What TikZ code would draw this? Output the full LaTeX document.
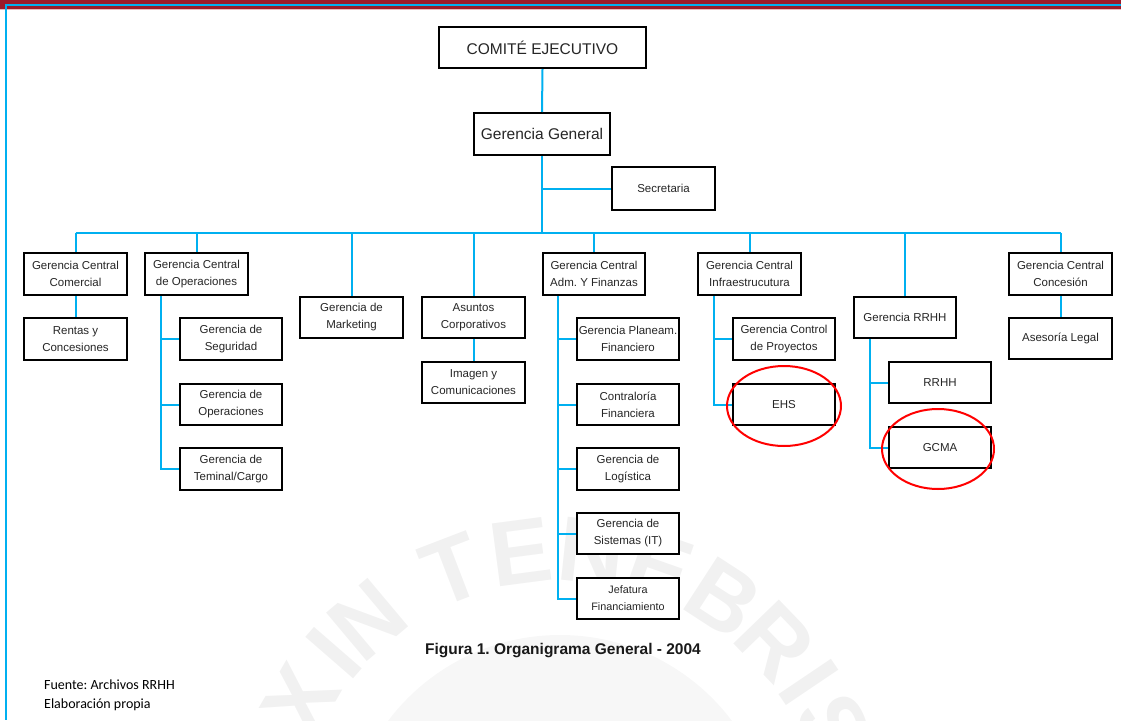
\documentclass[tikz,border=0pt]{standalone}
\usepackage{fontspec}
\setmainfont{Liberation Sans}
\newfontfamily\notefont{Carlito}
\frenchspacing
\definecolor{linkblue}{HTML}{00B0F0}
\definecolor{bandred}{HTML}{9B1B2B}
\definecolor{bandpink}{HTML}{E9B8BC}
\definecolor{sealgray}{HTML}{F1F1F1}
\definecolor{sealdisc}{HTML}{F7F7F7}
\tikzset{
  unit/.style={draw=black, line width=2pt, fill=white, inner sep=0pt, align=center,
    text=black!85, minimum width=103pt, minimum height=42pt,
    font=\fontsize{11.5}{17}\selectfont},
  bigunit/.style={unit, font=\fontsize{15.5}{19}\selectfont},
  link/.style={draw=linkblue, line width=2pt},
  hilite/.style={draw=red, line width=2pt},
  sealletter/.style={text=sealgray, inner sep=0pt, font=\bfseries\fontsize{92}{92}\selectfont}
}
\begin{document}
\begin{tikzpicture}[x=1pt, y=-1pt]
\useasboundingbox (0,0) rectangle (1121,720);

% faint seal in the background
\begin{scope}
  \clip (0,0) rectangle (1121,720);
  \fill[sealdisc] (560,850) circle[radius=215];
  \begin{scope}[shift={(560,850)}, yscale=-1]
    \foreach \a/\c in {177/L, 163.5/U, 150/X, 139/I, 130/N, 111/T, 97.5/E, 84/N,
                       70.5/E, 57/B, 44/R, 34/I, 24/S, 7/L}
      \node[sealletter, rotate=\a-90] at (\a:300) {\c};
  \end{scope}
\end{scope}

% page header band
\fill[bandred] (0,0) rectangle (1121,8.5);
\fill[bandpink] (0,8.5) rectangle (1121,10);
\fill[linkblue] (5.3,4) rectangle (1121,6);
\fill[linkblue] (5.3,4) rectangle (7.3,720);

% top levels
\node[bigunit, minimum width=207pt, minimum height=41pt] (ce) at (542.5,47.5) {COMITÉ EJECUTIVO};
\node[bigunit, minimum width=136pt] (gg) at (542,134) {Gerencia General};
\node[unit, minimum height=43pt] (sec) at (663.5,188.5) {Secretaria};

% central managements
\node[unit] (gcc) at (75.5,274) {Gerencia Central\\Comercial};
\node[unit] (gco) at (196.5,274) {Gerencia Central\\de Operaciones};
\node[unit, minimum height=41pt] (mkt) at (351.5,317.5) {Gerencia de\\Marketing};
\node[unit, minimum height=41pt] (ac) at (473.5,317.5) {Asuntos\\Corporativos};
\node[unit, minimum width=102pt] (gaf) at (594,274) {Gerencia Central\\Adm. Y Finanzas};
\node[unit] (gci) at (749.5,274) {Gerencia Central\\Infraestrucutura};
\node[unit, minimum width=102pt, minimum height=41pt] (grh) at (905,317.5) {Gerencia RRHH};
\node[unit] (gcn) at (1060.5,274) {Gerencia Central\\Concesión};

% units below
\node[unit] (ryc) at (75.5,339) {Rentas y\\Concesiones};
\node[unit, minimum width=102pt] (seg) at (231,339) {Gerencia de\\Seguridad};
\node[unit, minimum width=102pt, minimum height=41pt] (ope) at (231,404.5) {Gerencia de\\Operaciones};
\node[unit, minimum width=102pt] (ter) at (231,469) {Gerencia de\\Teminal/Cargo};
\node[unit, minimum height=41pt] (img) at (473.5,382.5) {Imagen y\\Comunicaciones};
\node[unit, minimum width=102pt] (pla) at (628,339) {Gerencia Planeam.\\Financiero};
\node[unit, minimum width=102pt, minimum height=41pt] (con) at (628,404.5) {Contraloría\\Financiera};
\node[unit, minimum width=102pt] (lgs) at (628,469) {Gerencia de\\Logística};
\node[unit, minimum width=102pt, minimum height=41pt] (sis) at (628,533.5) {Gerencia de\\Sistemas (IT)};
\node[unit, minimum width=102pt, minimum height=41pt, font=\fontsize{10.8}{17}\selectfont] (jef) at (628,598.5) {Jefatura\\Financiamiento};
\node[unit, minimum width=102pt] (gcp) at (784,339) {Gerencia Control\\de Proyectos};
\node[unit, minimum width=102pt, minimum height=41pt] (ehs) at (784,404.5) {EHS};
\node[unit, minimum width=102pt, minimum height=41pt] (rrhh) at (940,382.5) {RRHH};
\node[unit, minimum width=102pt, minimum height=41pt] (gcma) at (940,447.5) {GCMA};
\node[unit, minimum height=41pt] (leg) at (1060.5,338.5) {Asesoría Legal};

% connectors
\coordinate (bus) at (0,233);
\draw[link] (ce.south) -- (gg.north);
\draw[link] (gg.south) -- (gg.south |- bus);
\draw[link] (gg.south |- sec.west) -- (sec.west);
\draw[link] (gcc.north |- bus) -- (gcn.north |- bus);
\foreach \n in {gcc, gco, mkt, ac, gaf, gci, grh, gcn}
  \draw[link] (\n.north |- bus) -- (\n.north);
\draw[link] (gcc.south) -- (ryc.north);
\draw[link] (ac.south) -- (img.north);
\draw[link] (gcn.south) -- (leg.north);

\coordinate (opsT) at ([xshift=17pt]gco.south west);
\draw[link] (opsT) |- (ter.west);
\foreach \n in {seg, ope}
  \draw[link] (opsT |- \n.west) -- (\n.west);

\coordinate (admT) at ([xshift=16pt]gaf.south west);
\draw[link] (admT) |- (jef.west);
\foreach \n in {pla, con, lgs, sis}
  \draw[link] (admT |- \n.west) -- (\n.west);

\coordinate (infT) at ([xshift=17pt]gci.south west);
\draw[link] (infT) |- (ehs.west);
\draw[link] (infT |- gcp.west) -- (gcp.west);

\coordinate (rhT) at ([xshift=17pt]grh.south west);
\draw[link] (rhT) |- (gcma.west);
\draw[link] (rhT |- rrhh.west) -- (rrhh.west);

% highlighted units
\draw[hilite] ([yshift=-1.5pt]ehs.center) ellipse [x radius=57, y radius=40];
\draw[hilite] ([xshift=-2pt, yshift=-1.5pt]gcma.center) ellipse [x radius=56, y radius=40];

% caption and source notes
\node[font=\bfseries\fontsize{15.5}{18}\selectfont, text=black!90] (cap) at (563,651) {Figura 1. Organigrama General - 2004};
\node[anchor=west, inner sep=0pt, font=\notefont\fontsize{14}{17}\selectfont] (src) at (44,685) {Fuente: Archivos RRHH};
\node[anchor=west, inner sep=0pt, font=\notefont\fontsize{14}{17}\selectfont] (own) at (44,705) {Elaboración propia};
\end{tikzpicture}
\end{document}
